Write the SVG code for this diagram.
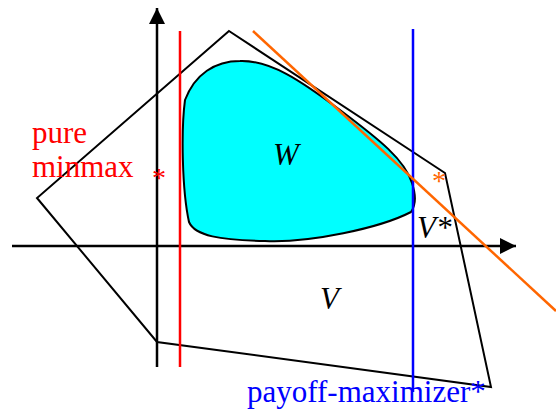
<svg xmlns="http://www.w3.org/2000/svg" width="556" height="411" viewBox="0 0 556 411">
<style>
.ax{stroke:#000;stroke-width:2.5;fill:none}
.poly{stroke:#000;stroke-width:2;fill:none}
.t{font-family:"Liberation Serif","Times New Roman",serif;font-size:31px}
.s{font-family:"Liberation Serif","Times New Roman",serif;font-size:28px}
.it{font-style:italic}
</style>
<defs>
<marker id="arr" viewBox="0 0 10 10" refX="10" refY="5" markerWidth="6.4" markerHeight="6.4" markerUnits="strokeWidth" orient="auto"><path d="M0,0L10,5L0,10Z" fill="#000"/></marker>
</defs>
<rect width="556" height="411" fill="#fff"/>
<g id="W">
<path d="M185,100 C195,74 215,61 240,61 C270,60 300,80 340,110 C380,140 405,160 412,183 C416,195 416,205 411,212 C380,228 310,243 265,241 C220,240 195,236 189,222 C182,190 181,130 185,100 Z" fill="#00FFFF" stroke="#000" stroke-width="2"/>
<text class="t it" x="273" y="165">W</text>
</g>
<g id="V">
<polygon class="poly" points="229,31 445,173 491,387 157,342 37,198"/>
<text class="t it" x="320" y="309">V</text>
</g>
<g id="connectors">
<line class="ax" x1="12" y1="246" x2="516" y2="246" marker-end="url(#arr)"/>
<line class="ax" x1="157" y1="367" x2="157" y2="8" marker-end="url(#arr)"/>
<line x1="180" y1="31" x2="180" y2="367" stroke="#FF0000" stroke-width="2.5"/>
<line x1="413" y1="29" x2="413" y2="392" stroke="#0000FF" stroke-width="2.5"/>
<line x1="253" y1="31" x2="556" y2="311" stroke="#FF6600" stroke-width="2.5"/>
</g>
<g id="Vstar">
<text class="t it" x="417" y="238">V*</text>
</g>
<g id="pure-minmax">
<text class="t" x="32" y="143" fill="#FF0000">pure</text>
<text class="t" x="32" y="177" fill="#FF0000">minmax</text>
<text class="s" x="159" y="187" fill="#FF0000" text-anchor="middle">*</text>
</g>
<g id="orange-star">
<text class="s" x="439" y="190" fill="#FF6600" text-anchor="middle">*</text>
</g>
<g id="payoff-maximizer">
<text class="t" x="247" y="402" fill="#0000FF">payoff-maximizer*</text>
</g>
</svg>
